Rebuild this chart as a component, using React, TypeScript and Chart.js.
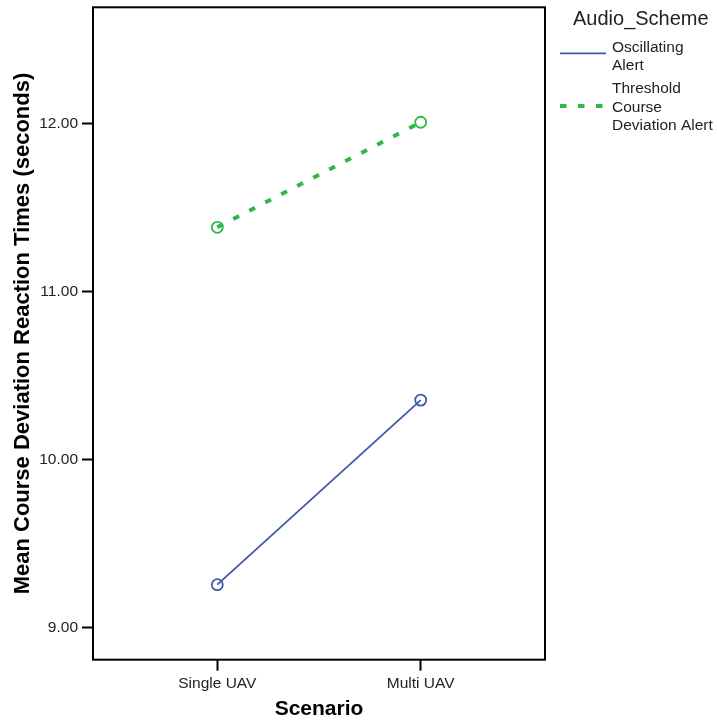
import React, { useEffect, useRef } from "react";
import { Chart, registerables } from "chart.js";

Chart.register(...registerables);

const categories = ["Single UAV", "Multi UAV"];
const oscillatingValues = [9.254, 10.354];
const thresholdValues = [11.384, 12.01];
const seriesNames = ["Oscillating Alert", "Threshold Course Deviation Alert"];
const legendLines = [["Oscillating", "Alert"], ["Threshold", "Course", "Deviation Alert"]];
const yTickValues = [9, 10, 11, 12];
const legendTitle = "Audio_Scheme";
const xTitle = "Scenario";
const yTitle = "Mean Course Deviation Reaction Times (seconds)";

const FONT = '"Liberation Sans", Arial, Helvetica, sans-serif';
const BLUE = "#3e58ac";
const GREEN = "#2eb848";

const framePlugin = {
  id: "frameAndLegend",
  afterDraw(chart: any) {
    const { ctx, chartArea } = chart;
    ctx.save();
    ctx.strokeStyle = "#000";
    ctx.lineWidth = 2;
    ctx.setLineDash([]);
    ctx.strokeRect(chartArea.left, chartArea.top, chartArea.right - chartArea.left, chartArea.bottom - chartArea.top);

    // legend
    const lx = chartArea.right + 15;
    ctx.fillStyle = "#222";
    ctx.textBaseline = "alphabetic";
    ctx.textAlign = "left";
    ctx.font = `20px ${FONT}`;
    ctx.fillText(legendTitle, chartArea.right + 28, 25);

    ctx.font = `15.5px ${FONT}`;
    const lineGap = 18.3;
    const firstBaselines = [51.7, 93.3];
    const sampleYs = [53.3, 106];
    chart.data.datasets.forEach((ds: any, i: number) => {
      ctx.save();
      ctx.strokeStyle = ds.borderColor;
      ctx.lineWidth = ds.borderWidth;
      ctx.setLineDash(ds.borderDash || []);
      ctx.lineCap = "butt";
      ctx.beginPath();
      ctx.moveTo(lx, sampleYs[i]);
      ctx.lineTo(lx + 46, sampleYs[i]);
      ctx.stroke();
      ctx.restore();
      const lines = legendLines[i];
      lines.forEach((t, j) => {
        ctx.fillStyle = "#222";
        ctx.fillText(t, lx + 52, firstBaselines[i] + j * lineGap);
      });
    });
    ctx.restore();
  },
};

export default function App() {
  const ref = useRef<HTMLCanvasElement>(null);
  useEffect(() => {
    if (!ref.current) return;
    const toPts = (vals: number[]) => categories.map((_, i) => ({ x: i, y: vals[i] }));
    const chart = new Chart(ref.current, {
      type: "line",
      data: {
        datasets: [
          {
            label: seriesNames[0],
            data: toPts(oscillatingValues),
            borderColor: BLUE,
            borderWidth: 1.8,
            pointRadius: 5.5,
            pointBorderWidth: 1.8,
            pointBorderColor: BLUE,
            pointBackgroundColor: "rgba(0,0,0,0)",
            fill: false,
          },
          {
            label: seriesNames[1],
            data: toPts(thresholdValues),
            borderColor: GREEN,
            borderWidth: 4,
            borderDash: [6.5, 11.5],
            borderCapStyle: "butt",
            pointRadius: 5.5,
            pointBorderWidth: 1.8,
            pointBorderColor: GREEN,
            pointBackgroundColor: "rgba(0,0,0,0)",
            fill: false,
          },
        ],
      },
      plugins: [framePlugin],
      options: {
        animation: false,
        responsive: true,
        maintainAspectRatio: false,
        layout: { padding: { left: 0, top: 5.3, right: 172, bottom: 0 } },
        plugins: { legend: { display: false }, tooltip: { enabled: false } },
        scales: {
          x: {
            type: "linear",
            min: -0.611,
            max: 1.611,
            afterFit: (s: any) => {
              s.height = 63.3;
              s.paddingLeft = 0;
              s.paddingRight = 0;
            },
            afterBuildTicks: (s: any) => {
              s.ticks = categories.map((_, i) => ({ value: i }));
            },
            ticks: {
              color: "#222",
              font: { family: FONT, size: 15.5 },
              padding: 4,
              maxRotation: 0,
              callback: (v: any) => categories[v as number] ?? "",
            },
            grid: {
              display: true,
              drawOnChartArea: false,
              drawTicks: true,
              tickLength: 11,
              tickWidth: 2,
              tickColor: "#000",
            },
            border: { display: false },
            title: {
              display: true,
              text: xTitle,
              color: "#000",
              font: { family: FONT, size: 21, weight: "bold" },
              padding: { top: 0, bottom: 1 },
            },
          },
          y: {
            type: "linear",
            min: 8.807,
            max: 12.695,
            afterFit: (s: any) => {
              s.width = 93;
              s.paddingTop = 0;
              s.paddingBottom = 0;
            },
            afterBuildTicks: (s: any) => {
              s.ticks = yTickValues.map((v) => ({ value: v }));
            },
            ticks: {
              color: "#222",
              font: { family: FONT, size: 15.5 },
              padding: 4,
              callback: (v: any) => Number(v).toFixed(2),
            },
            grid: {
              display: true,
              drawOnChartArea: false,
              drawTicks: true,
              tickLength: 11,
              tickWidth: 2,
              tickColor: "#000",
            },
            border: { display: false },
            title: {
              display: true,
              text: yTitle,
              color: "#000",
              font: { family: FONT, size: 22, weight: "bold" },
              padding: { top: 10, bottom: 0 },
            },
          },
        },
      },
    } as any);
    return () => chart.destroy();
  }, []);
  return (
    <div style={{ position: "fixed", left: 0, top: 0, width: 717, height: 723, background: "#fff" }}>
      <canvas ref={ref} />
    </div>
  );
}
